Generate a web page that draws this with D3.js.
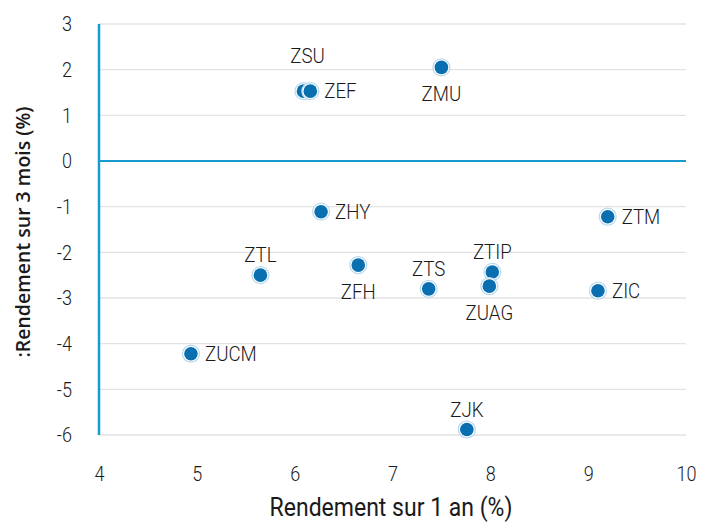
<!DOCTYPE html>
<html lang="fr">
<head>
    <meta charset="UTF-8">
    <title>Rendement</title>
    <script src="https://cdn.jsdelivr.net/npm/d3@7/dist/d3.min.js"></script>
    <style>
        body { margin: 0; background: #fff; }
        #graphDiv { width: 701px; height: 525px; }
        .cond { font-family: "Roboto", "Liberation Sans", sans-serif; font-weight: 300; fill: #1a1a1a; }
    </style>
</head>
<body>
<svg id="graphDiv"></svg>
<script>
    // donnees
    var names = ["ZSU", "ZEF", "ZMU", "ZHY", "ZTM", "ZTL", "ZFH", "ZTS", "ZTIP", "ZUAG", "ZIC", "ZUCM", "ZJK"];
    var rend1an = [6.09, 6.16, 7.50, 6.27, 9.20, 5.65, 6.65, 7.37, 8.02, 7.99, 9.10, 4.94, 7.76];
    var rend3mois = [1.53, 1.53, 2.05, -1.11, -1.22, -2.50, -2.28, -2.80, -2.43, -2.74, -2.84, -4.22, -5.88];
    var labelPos = ["aboveLeft", "right", "below", "right", "right", "above", "below", "above", "above", "below", "right", "right", "above"];
    var xTicks = [4, 5, 6, 7, 8, 9, 10];
    var yTicks = [3, 2, 1, 0, -1, -2, -3, -4, -5, -6];

    var sx = 0.86; // police etroite simulee
    var w = 701, h = 525;
    var svg = d3.select("#graphDiv").attr("width", w).attr("height", h);

    var x = d3.scaleLinear().domain([4, 10]).range([99, 686]);
    var y = d3.scaleLinear().domain([-6, 3]).range([435, 24]);

    // grille
    svg.append("g").selectAll("line").data(yTicks).enter().append("line")
        .attr("x1", x(4)).attr("x2", x(10))
        .attr("y1", function (d) { return y(d); })
        .attr("y2", function (d) { return y(d); })
        .style("stroke", function (d) { return d == 0 ? "#1a9bd0" : "#e3e3e3"; })
        .style("stroke-width", function (d) { return d == 0 ? 2 : 1.3; });

    // axe vertical
    svg.append("line")
        .attr("x1", x(4)).attr("x2", x(4))
        .attr("y1", y(3)).attr("y2", y(-6))
        .style("stroke", "#1a9bd0").style("stroke-width", 2.5);

    var xAxis = d3.axisBottom(x).tickValues(xTicks).tickSize(0).tickPadding(0)
        .tickFormat(function (d) { return String(d); });
    svg.append("g").attr("transform", "translate(0,466)").call(xAxis)
        .call(function (g) { g.select(".domain").remove(); })
        .selectAll("text").attr("class", "cond").style("font-size", "21px")
        .attr("transform", "scale(" + sx + ",1)");

    var yAxis = d3.axisLeft(y).tickValues(yTicks).tickSize(0).tickPadding(0)
        .tickFormat(function (d) { return String(d); });
    svg.append("g").attr("transform", "translate(72,0)").call(yAxis)
        .call(function (g) { g.select(".domain").remove(); })
        .selectAll("text").attr("class", "cond").style("font-size", "21px")
        .attr("transform", "scale(" + sx + ",1)");

    // titres
    svg.append("text").attr("class", "cond")
        .attr("transform", "translate(391,516) scale(0.92,1)")
        .attr("text-anchor", "middle").style("font-weight", 400)
        .style("font-size", "25px").text("Rendement sur 1 an (%)");

    svg.append("text")
        .attr("transform", "translate(30,232) rotate(-90)")
        .attr("text-anchor", "middle")
        .style("font-family", "'Open Sans', 'Noto Sans', sans-serif")
        .style("font-weight", 600).style("font-size", "19.5px").style("fill", "#1a1a1a")
        .text(":Rendement sur 3 mois (%)");

    var data = names.map(function (n, i) {
        return {name: n, x: rend1an[i], y: rend3mois[i], pos: labelPos[i]};
    });

    // points
    var pts = svg.append("g").selectAll("g").data(data).enter().append("g");
    pts.append("circle")
        .attr("cx", function (d) { return x(d.x); })
        .attr("cy", function (d) { return y(d.y); })
        .attr("r", 8.5)
        .style("fill", "#fff").style("stroke", "#b9d9ee").style("stroke-width", 1.2);
    pts.append("circle")
        .attr("cx", function (d) { return x(d.x); })
        .attr("cy", function (d) { return y(d.y); })
        .attr("r", 6.8)
        .style("fill", "#0a6fb0");

    // etiquettes
    pts.append("text").attr("class", "cond")
        .style("font-size", "21px")
        .attr("text-anchor", function (d) { return d.pos == "right" ? "start" : "middle"; })
        .attr("transform", function (d) {
            var tx = x(d.x), ty = y(d.y) - 13;
            if (d.pos == "right") { tx = x(d.x) + 14; ty = y(d.y) + 7; }
            if (d.pos == "below") ty = y(d.y) + 34;
            if (d.pos == "aboveLeft") { tx = x(d.x) + 4; ty = y(d.y) - 28; }
            return "translate(" + tx + "," + ty + ") scale(0.89,1)";
        })
        .text(function (d) { return d.name; });
</script>
</body>
</html>
